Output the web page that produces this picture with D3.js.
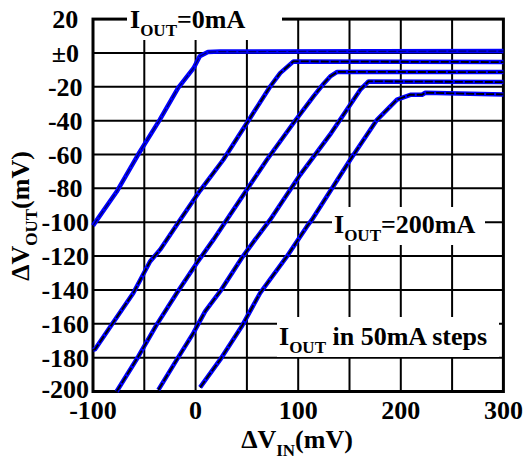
<!DOCTYPE html>
<html><head><meta charset="utf-8">
<script src="https://cdn.jsdelivr.net/npm/d3@7"></script>
<style>body{margin:0;background:#fff}svg{display:block}</style>
</head><body><svg id="c" width="524" height="466"></svg>
<script>
// ---- data ----
const xTicks = [-100, 0, 100, 200, 300];
const xTickLabels = ["-100", "0", "100", "200", "300"];
const yTicks = [20, 0, -20, -40, -60, -80, -100, -120, -140, -160, -180, -200];
const yTickLabels = ["20", "\u00b10", "-20", "-40", "-60", "-80", "-100", "-120", "-140", "-160", "-180", "-200"];
const xGrid = [-50, 0, 50, 100, 150, 200, 250];
const yGrid = [0, -20, -40, -60, -80, -100, -120, -140, -160, -180];
const currents = ["0mA", "50mA", "100mA", "150mA", "200mA"];
const vin0  = [-100, -77, -56, -35, -17, -2, 4, 12, 24, 300];
const vout0 = [-102, -82, -60, -39.5, -20.7, -9, -2, 0.5, 0.8, 1.1];
const vin1  = [-100, -98, -78.5, -60.7, -44.4, -34.6, -15, 4.4, 27, 50, 72.7, 82.4, 95.4, 300];
const vout1 = [-175.5, -175, -157.6, -141.8, -123.2, -116.2, -98.5, -81.3, -63.1, -41.4, -19.8, -11.9, -5, -5.4];
const vin2  = [-77, -55.8, -37.9, -18.3, 1.2, 17.4, 23.9, 43.4, 69.5, 95.4, 114.9, 125, 131.2, 138, 300];
const vout2 = [-200, -179.3, -160.5, -141.8, -124.1, -110.3, -104.4, -86.7, -63.1, -41.4, -25.7, -18, -13.9, -11.2, -11.3];
const vin3  = [-36.3, -18.3, -2.1, 9.3, 23.9, 45, 58, 72.7, 101.9, 131, 160.5, 168.6, 300];
const vout3 = [-199, -181.2, -165.4, -152.7, -140.9, -121.1, -110.3, -98.5, -72, -48.3, -21.7, -16.8, -17.2];
const vin4  = [4.4, 23.9, 45, 62.9, 89, 108.5, 113.4, 150.7, 176.8, 196.3, 209.3, 220.7, 223.9, 300];
const vout4 = [-197.6, -181.2, -161.5, -141.8, -120.2, -102.5, -98.5, -63.1, -39.5, -27.6, -24.7, -24.7, -23.5, -24.5];
const seriesVin = [vin0, vin1, vin2, vin3, vin4];
const seriesVout = [vout0, vout1, vout2, vout3, vout4];

// ---- drawing ----
const svg = d3.select("#c");
const FONT = "'Liberation Serif','Times New Roman',serif";
const x = d3.scaleLinear().domain([-100, 300]).range([93, 503.4]);
const y = d3.scaleLinear().domain([-200, 20]).range([391.5, 19.1]);

// grid
svg.append("g").selectAll("line").data(xGrid).join("line")
  .attr("x1", d => x(d)).attr("x2", d => x(d)).attr("y1", y(20)).attr("y2", y(-200))
  .attr("stroke", "#000").attr("stroke-width", 2);
svg.append("g").selectAll("line").data(yGrid).join("line")
  .attr("y1", d => y(d)).attr("y2", d => y(d)).attr("x1", x(-100)).attr("x2", x(300))
  .attr("stroke", "#000").attr("stroke-width", 2);
// frame
svg.append("rect").attr("x", x(-100)).attr("y", y(20))
  .attr("width", x(300) - x(-100)).attr("height", y(-200) - y(20))
  .attr("fill", "none").attr("stroke", "#000").attr("stroke-width", 3);

// annotation white boxes
const boxes = [[127, 0, 155, 40], [332, 207, 153, 38], [277, 317, 222, 40]];
svg.append("g").selectAll("rect").data(boxes).join("rect")
  .attr("x", d => d[0]).attr("y", d => d[1]).attr("width", d => d[2]).attr("height", d => d[3])
  .attr("fill", "#fff");

// curves
const line = d3.line().x(d => x(d[0])).y(d => y(d[1]));
const curves = seriesVin.map((vs, i) => vs.map((v, j) => [v, seriesVout[i][j]]));
const cg = svg.append("g");
curves.forEach((c, i) => {
  cg.append("path").datum(c).attr("d", line).attr("fill", "none")
    .attr("stroke", "#0000ff").attr("stroke-width", 4.5).attr("stroke-linejoin", "round");
});
curves.forEach((c, i) => {
  cg.append("path").datum(c).attr("d", line).attr("fill", "none")
    .attr("stroke", "#000").attr("stroke-width", i === 0 ? 1.2 : 1.8)
    .attr("stroke-dasharray", "8,2").attr("opacity", i === 0 ? 0.6 : 1);
});

// tick labels
svg.append("g").selectAll("text").data(yTicks).join("text")
  .attr("x", 65.3).attr("y", d => y(d) + (d === -200 ? 6 : 9))
  .attr("text-anchor", "middle").attr("font-family", FONT).attr("font-weight", "bold")
  .attr("font-size", 26).text((d, i) => yTickLabels[i]);
svg.append("g").selectAll("text").data(xTicks).join("text")
  .attr("x", d => x(d)).attr("y", 419)
  .attr("text-anchor", "middle").attr("font-family", FONT).attr("font-weight", "bold")
  .attr("font-size", 26).text((d, i) => xTickLabels[i]);

// rich text helper: parts [text, isSub]
function rich(g, parts, attrs) {
  const t = g.append("text").attr("font-family", FONT).attr("font-weight", "bold").attr("font-size", 26);
  Object.entries(attrs).forEach(([k, v]) => t.attr(k, v));
  let sub = false;
  parts.forEach(([s, isSub]) => {
    const ts = t.append("tspan").text(s);
    if (isSub && !sub) { ts.attr("dy", 8).attr("font-size", 17); sub = true; }
    else if (isSub) { ts.attr("font-size", 17); }
    else if (!isSub && sub) { ts.attr("dy", -8); sub = false; }
  });
  return t;
}
rich(svg, [["I", false], ["OUT", true], ["=" + currents[0], false]], {x: 130, y: 27.5});
rich(svg, [["I", false], ["OUT", true], ["=" + currents[4], false]], {x: 334, y: 233});
rich(svg, [["I", false], ["OUT", true], [" in 50mA steps", false]], {x: 279, y: 345});
// axis titles
rich(svg, [["\u0394V", false], ["IN", true], ["(mV)", false]], {x: 297, y: 448, "text-anchor": "middle"});
rich(svg, [["\u0394V", false], ["OUT", true], ["(mV)", false]],
  {transform: "translate(29,216) rotate(-90)", "text-anchor": "middle"});
</script></body></html>
